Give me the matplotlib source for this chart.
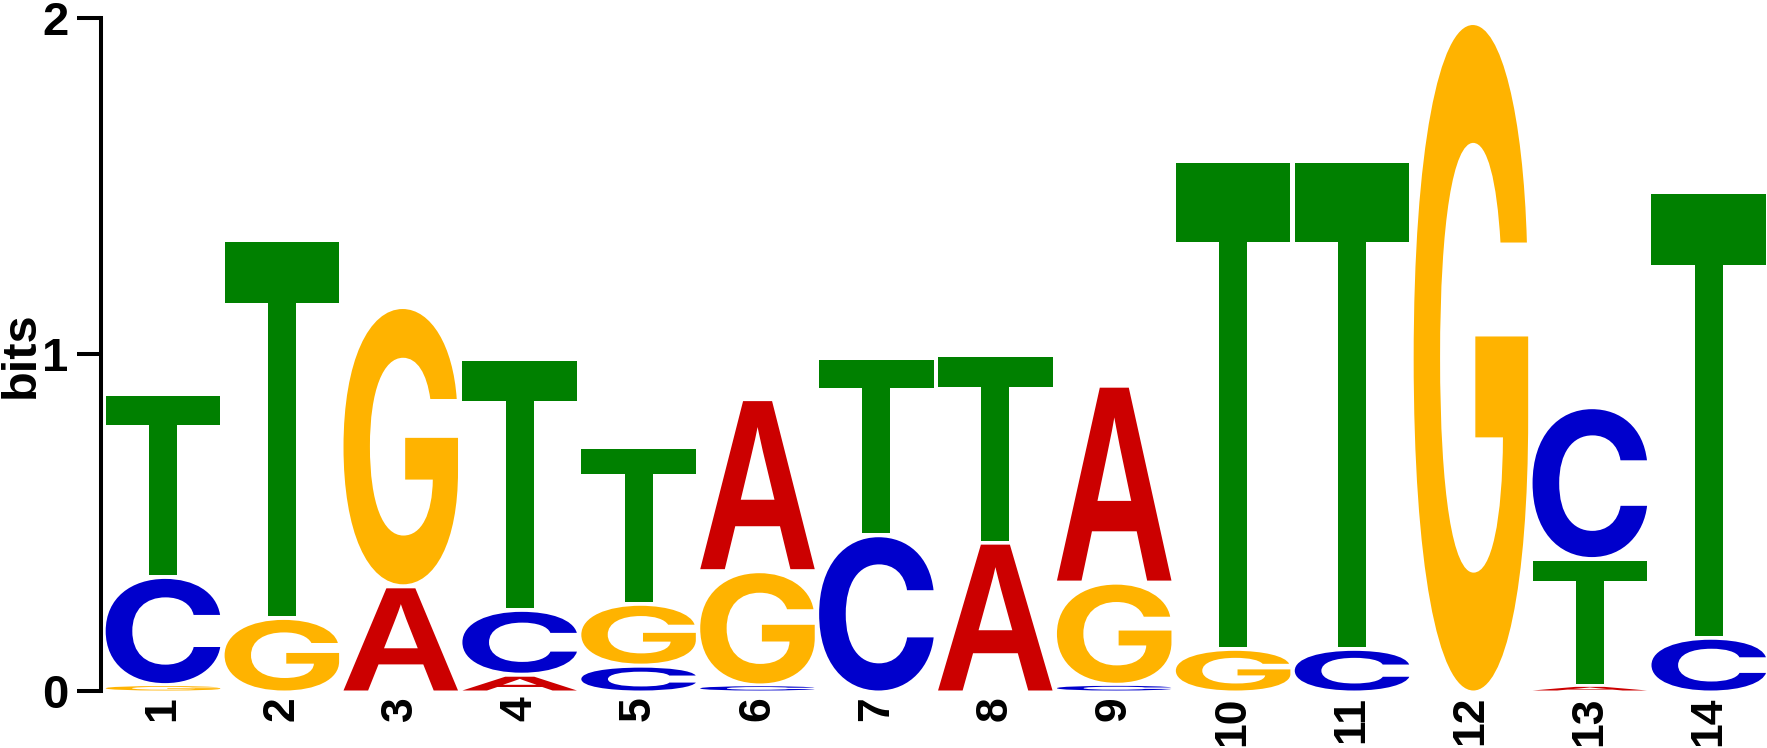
import matplotlib
matplotlib.use('Agg')
import matplotlib.pyplot as plt
from matplotlib.textpath import TextPath
from matplotlib.patches import PathPatch
from matplotlib.font_manager import FontProperties
from matplotlib.transforms import Affine2D

# sequence logo data: letters of each position from bottom to top, heights in bits
positions = list(range(1, 15))
stack_letters = [
    ['G', 'C', 'T'],
    ['G', 'T'],
    ['A', 'G'],
    ['A', 'C', 'T'],
    ['C', 'G', 'T'],
    ['C', 'G', 'A'],
    ['C', 'T'],
    ['A', 'T'],
    ['C', 'G', 'A'],
    ['G', 'T'],
    ['C', 'T'],
    ['G'],
    ['A', 'T', 'C'],
    ['C', 'T'],
]
stack_heights = [
    [0.022, 0.322, 0.545],
    [0.222, 1.123],
    [0.316, 0.831],
    [0.053, 0.193, 0.746],
    [0.080, 0.184, 0.467],
    [0.021, 0.340, 0.512],
    [0.468, 0.528],
    [0.446, 0.557],
    [0.023, 0.304, 0.586],
    [0.130, 1.450],
    [0.130, 1.450],
    [1.992],
    [0.018, 0.379, 0.452],
    [0.163, 1.327],
]
y_ticks = [0, 1, 2]

colors = {'A': '#CC0000', 'C': '#0000CC', 'G': '#FFB300', 'T': '#008000'}

plt.rcParams['font.family'] = ['Liberation Sans', 'DejaVu Sans']
plt.rcParams['font.weight'] = 'bold'

# C and G from Inter (flat terminals), A and T from Liberation Sans
glyph_fonts = {
    'A': FontProperties(family='Liberation Sans', weight='bold'),
    'C': FontProperties(family='Inter', weight='bold'),
    'G': FontProperties(family='Inter', weight='bold'),
    'T': FontProperties(family='Liberation Sans', weight='bold'),
}
letter_width = 0.963
gap = 0.012


def draw_letter(ax, ch, x, y, w, h, color):
    # stretch the glyph so its outline fills the box exactly
    tp = TextPath((0, 0), ch, size=1, prop=glyph_fonts[ch])
    ext = tp.get_extents()
    tr = (Affine2D()
          .translate(-ext.x0, -ext.y0)
          .scale(w / ext.width, h / ext.height)
          .translate(x - w / 2, y))
    ax.add_patch(PathPatch(tr.transform_path(tp), facecolor=color,
                           edgecolor='none', clip_on=False))


fig = plt.figure(figsize=(17.67, 7.48), dpi=100)
ax = fig.add_axes([101 / 1767, 57.5 / 748, 1666 / 1767, 672.2 / 748])

for pos, letters, heights in zip(positions, stack_letters, stack_heights):
    y = 0.0
    for ch, h in zip(letters, heights):
        drawn = h - gap if h > 2.5 * gap else 0.6 * h
        draw_letter(ax, ch, pos, y, letter_width, drawn, colors[ch])
        y += h

ax.set_xlim(0.479, 14.49)
ax.set_ylim(0, 2)
for s in ['top', 'right', 'bottom']:
    ax.spines[s].set_visible(False)
ax.spines['left'].set_linewidth(2.9)

ax.set_yticks(y_ticks)
ax.set_yticklabels([str(t) for t in y_ticks], fontsize=34, fontweight='bold')
ax.tick_params(axis='y', length=17.3, width=2.9, pad=6)

ax.set_xticks(positions)
ax.set_xticklabels([str(p) for p in positions], rotation=90,
                   fontsize=32, fontweight='bold')
ax.tick_params(axis='x', length=0, pad=4)

ax.set_ylabel('bits', fontsize=35, fontweight='bold')
ax.yaxis.set_label_coords(-0.0343, 0.5)

fig.savefig('out.png', dpi=100)
plt.close(fig)
